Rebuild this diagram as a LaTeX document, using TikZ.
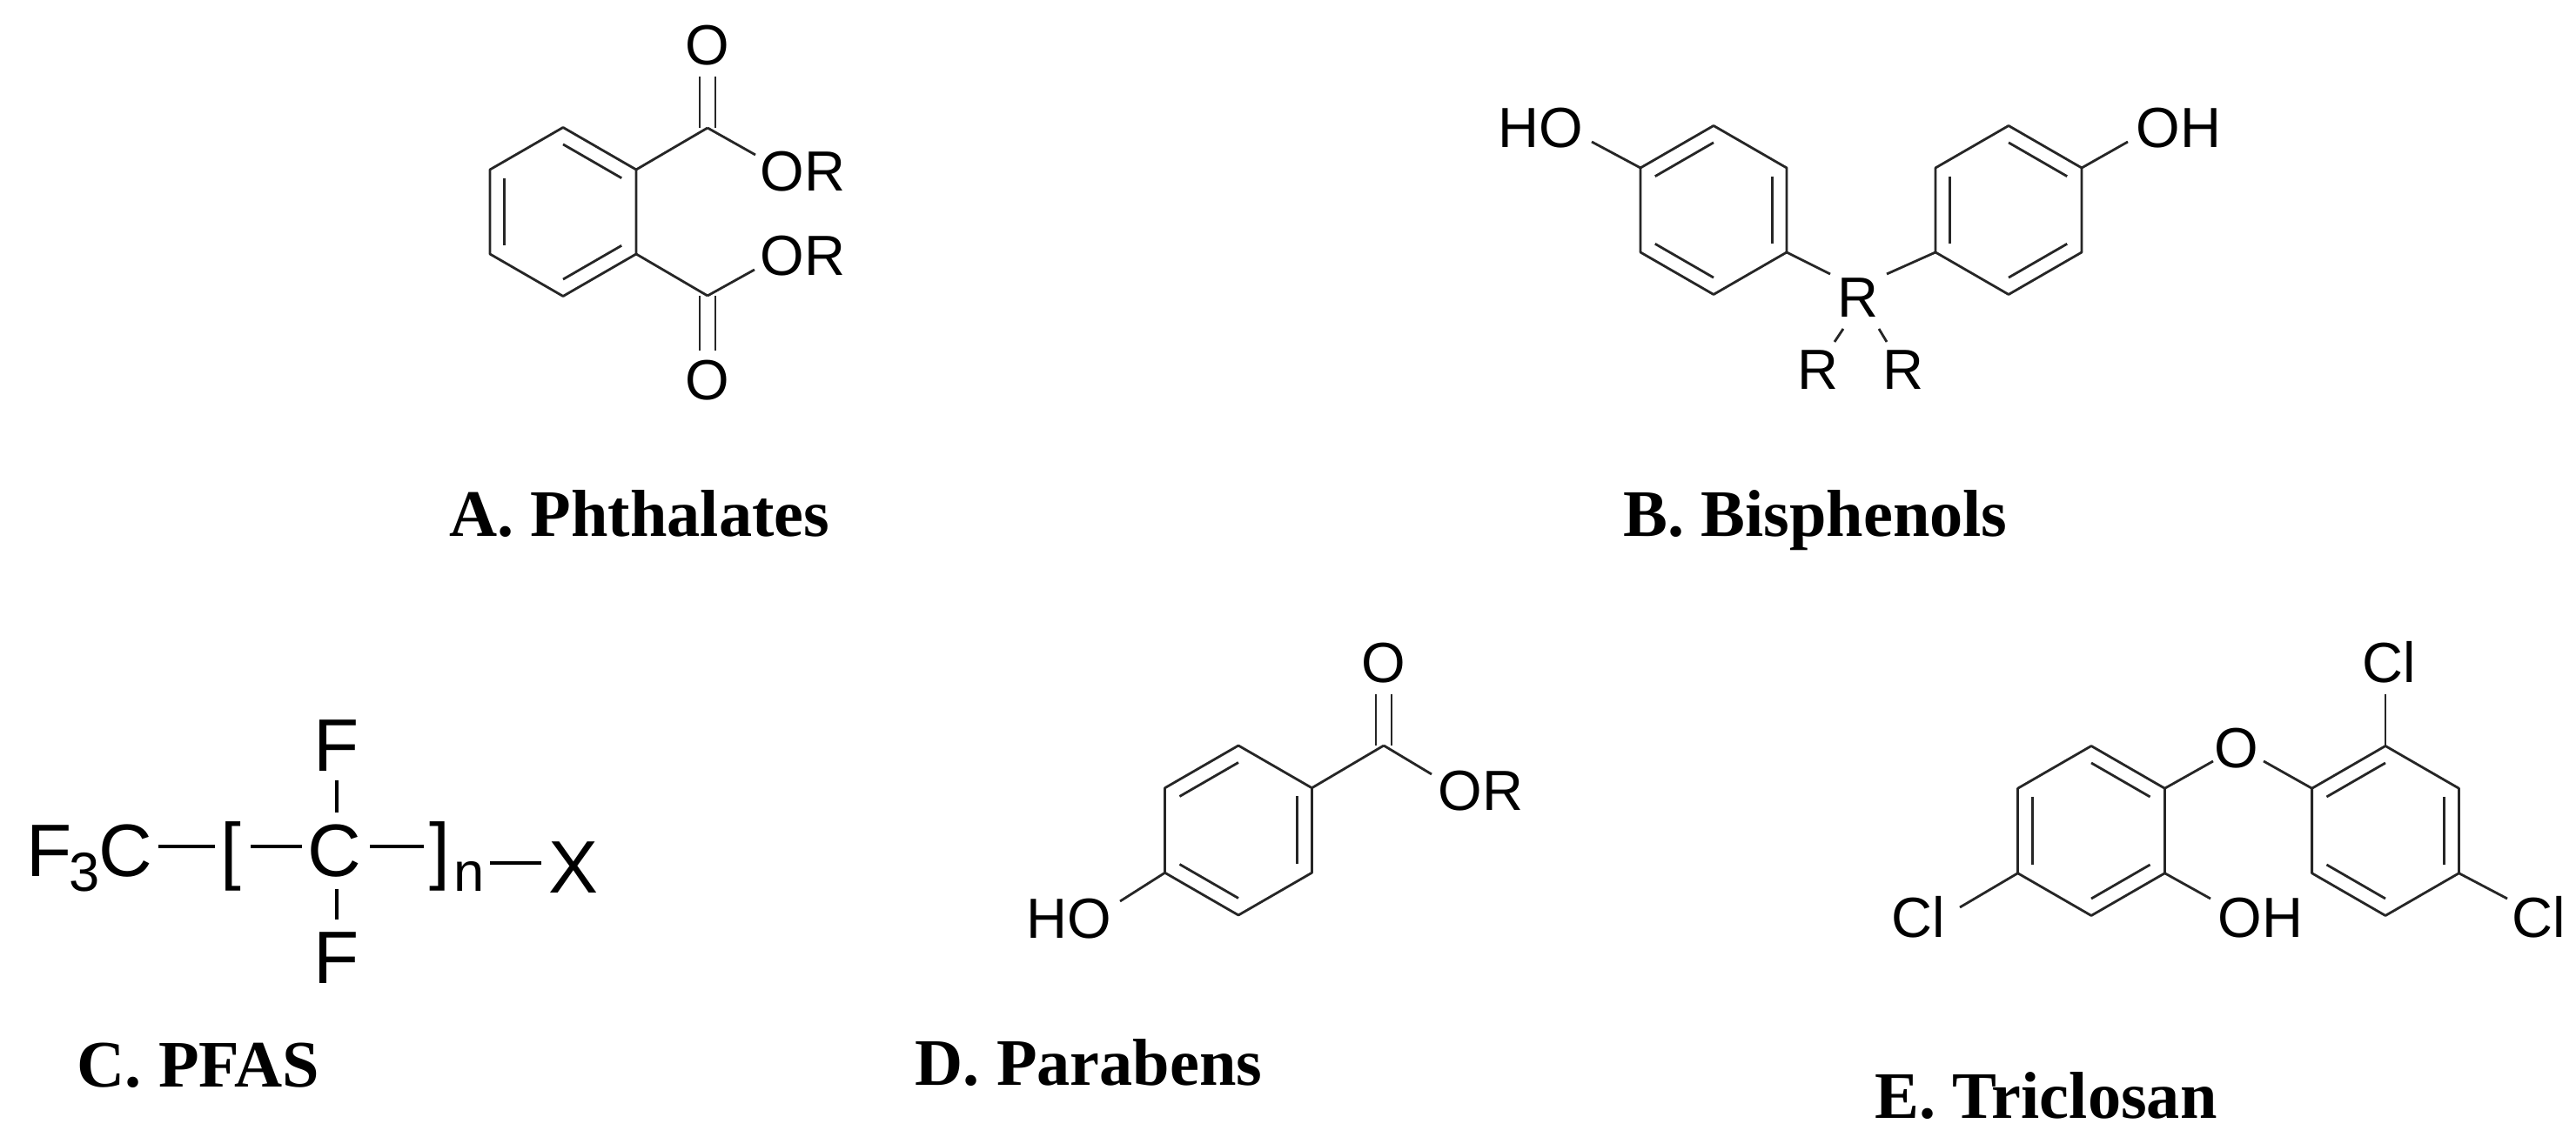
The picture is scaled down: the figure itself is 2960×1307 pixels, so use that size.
\documentclass[tikz,border=0pt]{standalone}
\usepackage{fontspec}
\setmainfont{Liberation Serif}
\newfontfamily\arialf{Liberation Sans}
\usetikzlibrary{calc}
\newcommand\hexring[4]{%
 \coordinate (#1c) at (#2,#3);
 \coordinate (#1t) at (#2,#3-#4);
 \coordinate (#1ur) at (#2+0.866*#4,#3-0.5*#4);
 \coordinate (#1lr) at (#2+0.866*#4,#3+0.5*#4);
 \coordinate (#1b) at (#2,#3+#4);
 \coordinate (#1ll) at (#2-0.866*#4,#3+0.5*#4);
 \coordinate (#1ul) at (#2-0.866*#4,#3-0.5*#4);
 \draw[bond] (#1t)--(#1ur)--(#1lr)--(#1b)--(#1ll)--(#1ul)--cycle;}
\newcommand\innerbond[3]{\draw[bond] ($(#1)!0.2!(#3)$) -- ($(#2)!0.2!(#3)$);}
\tikzset{
 bond/.style={line width=0.8pt, draw=black!85, line join=round},
 pbond/.style={line width=1.15pt, draw=black},
 lab/.style={font=\arialf\fontsize{18.5}{20}\selectfont, inner sep=0pt, anchor=base},
 plab/.style={font=\arialf\fontsize{24.3}{26}\selectfont, inner sep=0pt, anchor=base},
 psub/.style={font=\arialf\fontsize{18}{20}\selectfont, inner sep=0pt, anchor=base west},
 captext/.style={font=\bfseries\fontsize{21.7}{24}\selectfont, inner sep=0pt, anchor=base}
}
\begin{document}
\begin{tikzpicture}[x=0.01cm,y=-0.01cm]
\useasboundingbox (0,0) rectangle (2960,1307);
% ---------- A. Phthalates
\hexring{P}{647}{243.5}{97}
\innerbond{Pt}{Pur}{Pc}\innerbond{Pul}{Pll}{Pc}\innerbond{Plr}{Pb}{Pc}
\coordinate (PC1) at (813,147); \coordinate (PC2) at (813,340);
\draw[bond] (Pur)--(PC1); \draw[bond] (Plr)--(PC2);
\draw[bond] (804,88)--(804,147) (822,88)--(822,147);
\draw[bond] (804,340)--(804,403) (822,340)--(822,403);
\node[lab] (PO1) at (813,75) {O};
\node[lab] (PO2) at (813,460) {O};
\node[lab,anchor=base west] (POR1) at (873,220) {OR};
\node[lab,anchor=base west] (POR2) at (873,317) {OR};
\coordinate (PE1) at (868,178); \coordinate (PE2) at (867,310);
\draw[bond] (PC1)--(PE1); \draw[bond] (PC2)--(PE2);
\node[captext] (capA) at (735,617) {A. Phthalates};
% ---------- B. Bisphenols
\hexring{L}{1969}{241.5}{97}
\innerbond{Lul}{Lt}{Lc}\innerbond{Lur}{Llr}{Lc}\innerbond{Lll}{Lb}{Lc}
\hexring{R}{2308}{241.5}{97}
\innerbond{Rt}{Rur}{Rc}\innerbond{Rul}{Rll}{Rc}\innerbond{Rlr}{Rb}{Rc}
\node[lab,anchor=base east] (BHO) at (1820,170) {HO};
\node[lab,anchor=base west] (BOH) at (2454,170) {OH};
\coordinate (BHOe) at (1829,163); \coordinate (BOHe) at (2445,163);
\draw[bond] (Lul)--(BHOe); \draw[bond] (Rur)--(BOHe);
\node[lab] (BR) at (2135,365) {R};
\coordinate (BRl) at (2103,315); \coordinate (BRr) at (2168,315);
\draw[bond] (Llr)--(BRl); \draw[bond] (BRr)--(Rll);
\draw[bond] (2118,378)--(2108,393); \draw[bond] (2159,378)--(2168,393);
\node[lab] (BR1) at (2089,448) {R};
\node[lab] (BR2) at (2187,448) {R};
\node[captext] (capB) at (2086,617) {B. Bisphenols};
% ---------- C. PFAS
\node[plab,anchor=base west] (F3) at (30,1008) {F};
\node[psub] (F3s) at (79,1025) {3};
\node[plab,anchor=base west] (F3C) at (113,1008) {C};
\node[plab] (brl) at (265,1007) {[};
\node[plab] (CC) at (384,1008) {C};
\node[plab] (Ftop) at (387,887) {F};
\node[plab] (Fbot) at (387,1130) {F};
\node[plab] (brr) at (505,1007) {]};
\node[psub] (nn) at (521,1025) {n};
\node[plab] (XX) at (659,1027) {X};
\draw[pbond] (182,973)--(247,973);
\draw[pbond] (288,973)--(347,973);
\draw[pbond] (425,973)--(487,973);
\draw[pbond] (387,897)--(387,934);
\draw[pbond] (387,1022)--(387,1057);
\draw[pbond] (563,992)--(622,992);
\node[captext] (capC) at (228,1249) {C. PFAS};
% ---------- D. Parabens
\hexring{D}{1423}{954.5}{97.5}
\innerbond{Dul}{Dt}{Dc}\innerbond{Dur}{Dlr}{Dc}\innerbond{Dll}{Db}{Dc}
\coordinate (DC) at (1590,857);
\draw[bond] (Dur)--(DC);
\draw[bond] (1581,798)--(1581,857) (1599,798)--(1599,857);
\node[lab] (DO) at (1590,785) {O};
\coordinate (DE) at (1645,890);
\draw[bond] (DC)--(DE);
\node[lab,anchor=base west] (DOR) at (1652,932) {OR};
\node[lab,anchor=base east] (DHO) at (1278,1079) {HO};
\coordinate (DHOe) at (1287,1036);
\draw[bond] (Dll)--(DHOe);
\node[captext] (capD) at (1251,1247) {D. Parabens};
% ---------- E. Triclosan
\hexring{T}{2403}{955}{97.5}
\innerbond{Tt}{Tur}{Tc}\innerbond{Tul}{Tll}{Tc}\innerbond{Tlr}{Tb}{Tc}
\hexring{S}{2741}{955}{97.5}
\innerbond{Sul}{St}{Sc}\innerbond{Sur}{Slr}{Sc}\innerbond{Sll}{Sb}{Sc}
\node[lab] (EO) at (2570,883) {O};
\coordinate (EOl) at (2543,875); \coordinate (EOr) at (2601,875);
\draw[bond] (Tur)--(EOl); \draw[bond] (EOr)--(Sul);
\node[lab] (ECl1) at (2745,785) {Cl};
\coordinate (ECl1e) at (2741,798);
\draw[bond] (St)--(ECl1e);
\node[lab,anchor=base east] (ECl2) at (2236,1078) {Cl};
\coordinate (ECl2e) at (2252,1043);
\draw[bond] (Tll)--(ECl2e);
\node[lab,anchor=base west] (EOH) at (2548,1078) {OH};
\coordinate (EOHe) at (2540,1033);
\draw[bond] (Tlr)--(EOHe);
\node[lab,anchor=base west] (ECl3) at (2886,1078) {Cl};
\coordinate (ECl3e) at (2881,1033);
\draw[bond] (Slr)--(ECl3e);
\node[captext] (capE) at (2351,1285) {E. Triclosan};
\end{tikzpicture}
\end{document}
